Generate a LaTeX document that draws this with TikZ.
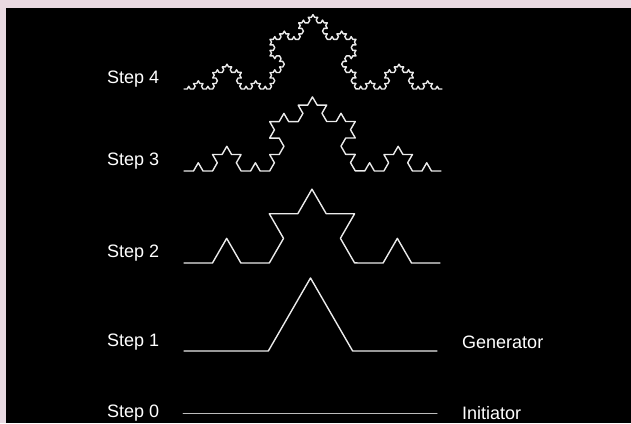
\documentclass[tikz,border=0pt]{standalone}
\usepackage{fontspec}
\setmainfont{Liberation Sans}
\usepackage{xcolor}
\usepackage{tikz}
\usetikzlibrary{decorations.fractals}

\definecolor{framepink}{RGB}{233,217,225}
\definecolor{curvewhite}{RGB}{235,235,235}

\begin{document}
\begin{tikzpicture}[x=1pt,y=-1pt,
    decoration=Koch snowflake,
    curve/.style={draw=curvewhite, line width=1.4pt, line join=round, line cap=round},
    steplabel/.style={anchor=west, inner sep=0pt, text=white, font=\fontsize{18}{20}\selectfont}]
    % Frame and black panel
    \fill[framepink] (0,0) rectangle (631,423);
    \fill[black] (6,8) rectangle (631,423);
    \useasboundingbox (0,0) rectangle (631,423);

    % Step 4
    \node[steplabel] (s4) at (107,79) {Step 4};
    \draw[curve] decorate{decorate{decorate{decorate{(184,89) -- (442,89)}}}};

    % Step 3
    \node[steplabel] (s3) at (107,161) {Step 3};
    \draw[curve] decorate{decorate{decorate{(184,171) -- (441,171)}}};

    % Step 2
    \node[steplabel] (s2) at (107,253) {Step 2};
    \draw[curve] decorate{decorate{(184,263) -- (440,263)}};

    % Step 1
    \node[steplabel] (s1) at (107,342) {Step 1};
    \draw[curve] decorate{(184,351) -- (437,351)};
    \node[steplabel] (gen) at (462,342) {Generator};

    % Step 0
    \node[steplabel] (s0) at (107,413) {Step 0};
    \draw[curve, draw=curvewhite!80!black, line width=1pt] (183,413) -- (437,413);
    \node[steplabel] (ini) at (462,413) {Initiator};
\end{tikzpicture}
\end{document}
